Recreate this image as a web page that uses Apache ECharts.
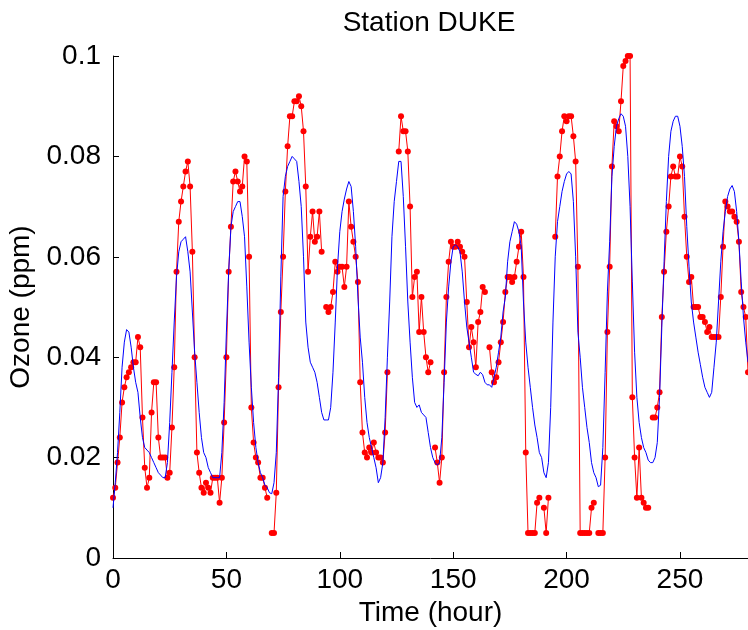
<!DOCTYPE html>
<html>
<head>
<meta charset="utf-8">
<script src="https://cdn.jsdelivr.net/npm/echarts@6/dist/echarts.min.js"></script>
<style>
html,body{margin:0;padding:0;background:#fff;}
#chart{width:748px;height:630px;}
</style>
</head>
<body>
<div id="chart"></div>
<script>
// Hourly observed ozone (ppm), index = hour; null = missing
var observed = [
0.012,0.014,0.019,0.024,0.031,0.034,0.036,0.037,0.038,0.039,
0.039,0.044,0.042,0.028,0.018,0.014,0.016,0.029,0.035,0.035,
0.024,0.020,0.020,0.020,0.016,0.017,0.026,0.038,0.057,0.067,
0.071,0.074,0.077,0.079,0.074,0.061,0.040,0.021,0.017,0.014,
0.013,0.015,0.014,0.013,0.016,0.016,0.016,0.011,0.016,0.027,
0.040,0.057,0.066,0.075,0.077,0.075,0.073,0.074,0.080,0.079,
0.060,0.030,0.023,0.020,0.019,0.016,0.016,0.014,0.012,null,
0.005,0.005,0.013,0.034,0.049,0.060,0.073,0.082,0.088,0.088,
0.091,0.091,0.092,0.090,0.085,0.074,0.057,0.064,0.069,0.063,
0.064,0.069,0.061,null,0.050,0.049,0.050,0.053,0.059,0.057,
0.058,0.058,0.054,0.058,0.071,0.066,0.063,0.060,0.055,0.035,
0.025,0.021,0.020,0.022,0.021,0.023,0.021,0.020,0.020,0.019,
0.025,0.037,null,null,null,null,0.081,0.088,0.085,0.085,
0.081,0.070,0.052,0.056,0.057,0.045,0.052,0.045,0.040,0.037,
0.039,null,0.022,0.019,0.015,0.020,0.037,0.052,0.059,0.063,
0.062,0.062,0.063,0.062,0.061,0.060,0.051,0.042,0.046,0.043,
0.038,0.047,0.049,0.054,0.053,null,0.042,0.037,0.035,0.036,
0.039,0.043,0.047,0.053,0.056,0.056,0.055,0.056,0.059,0.062,
0.065,0.056,0.021,0.005,0.005,0.005,0.005,0.011,0.012,null,
0.010,0.005,0.012,null,null,0.064,0.076,0.080,0.085,0.088,
0.087,0.088,0.088,0.084,0.079,0.058,0.005,0.005,0.005,0.005,
0.005,0.010,0.011,null,0.005,0.005,0.005,0.020,0.045,0.058,
0.078,0.087,0.086,0.085,0.091,0.098,0.099,0.100,0.100,0.032,
0.020,0.012,0.022,0.012,0.011,0.010,0.010,null,0.028,0.028,
0.030,0.033,0.048,0.057,0.065,0.070,0.076,0.078,0.076,0.076,
0.080,0.078,0.068,0.060,0.055,0.056,0.050,0.050,0.050,0.048,
0.048,0.047,0.045,0.046,0.044,0.044,0.044,0.044,0.052,0.062,
0.071,0.070,0.069,0.069,0.068,0.067,0.063,0.053,0.050,0.048,
0.037
];

// Hourly modelled ozone (ppm), index = hour
var modelled = [
0.010,0.015,0.021,0.029,0.038,0.043,0.0455,0.045,0.042,0.038,
0.035,0.033,0.028,0.024,0.022,0.0215,0.021,0.020,0.019,0.018,
0.017,0.0165,0.016,0.016,0.019,0.027,0.037,0.047,0.056,0.061,
0.063,0.0635,0.064,0.061,0.057,0.049,0.041,0.035,0.029,0.024,
0.021,0.020,0.018,0.017,0.016,0.016,0.016,0.016,0.021,0.031,
0.045,0.057,0.066,0.069,0.070,0.071,0.071,0.068,0.064,0.054,
0.043,0.034,0.027,0.022,0.019,0.017,0.016,0.0145,0.014,0.013,
0.0128,0.015,0.021,0.036,0.056,0.072,0.076,0.078,0.079,0.080,
0.0795,0.079,0.075,0.070,0.060,0.047,0.042,0.039,0.038,0.037,
0.035,0.032,0.029,0.0275,0.0275,0.0275,0.030,0.037,0.047,0.058,
0.065,0.069,0.0715,0.0735,0.075,0.074,0.069,0.062,0.052,0.044,
0.039,0.032,0.027,0.024,0.022,0.020,0.018,0.015,0.016,0.019,
0.028,0.040,0.051,0.064,0.071,0.075,0.079,0.079,0.072,0.062,
0.051,0.043,0.036,0.031,0.030,0.0305,0.029,0.0285,0.028,0.025,
0.022,0.020,0.019,0.0185,0.019,0.024,0.035,0.047,0.054,0.059,
0.062,0.0624,0.062,0.061,0.057,0.051,0.046,0.043,0.040,0.037,
0.0366,0.0363,0.037,0.0365,0.035,0.0345,0.0345,0.034,0.036,0.038,
0.041,0.044,0.049,0.052,0.059,0.063,0.065,0.067,0.0665,0.065,
0.062,0.051,0.043,0.038,0.034,0.030,0.0265,0.024,0.021,0.020,
0.017,0.016,0.019,0.030,0.047,0.060,0.067,0.070,0.073,0.075,
0.0765,0.077,0.0765,0.071,0.060,0.045,0.040,0.034,0.030,0.026,
0.023,0.019,0.017,0.016,0.0142,0.0145,0.022,0.037,0.053,0.063,
0.076,0.082,0.086,0.0875,0.0885,0.088,0.086,0.080,0.070,0.055,
0.041,0.032,0.027,0.024,0.022,0.021,0.0195,0.019,0.019,0.020,
0.023,0.032,0.046,0.059,0.071,0.080,0.085,0.087,0.088,0.088,
0.086,0.082,0.076,0.066,0.058,0.051,0.047,0.044,0.041,0.0385,
0.036,0.034,0.033,0.032,0.033,0.038,0.043,0.051,0.059,0.065,
0.069,0.072,0.0735,0.0742,0.073,0.069,0.063,0.055,0.048,0.043,
0.039
];

var xTicks = { min: 0, max: 280, interval: 50 };
var yTicks = { min: 0, max: 0.1, interval: 0.02 };
var titleText = 'Station DUKE';
var xName = 'Time (hour)';
var yName = 'Ozone (ppm)';

function toPairs(arr) {
  return arr.map(function (v, i) { return [i, v === null ? '-' : v]; });
}

var font = 'Liberation Sans, Arial, Helvetica, sans-serif';
var fs = 28;
var chart = echarts.init(document.getElementById('chart'), null, { renderer: 'canvas' });
chart.setOption({
  animation: false,
  backgroundColor: '#ffffff',
  title: {
    text: titleText, left: 424, top: 4, textAlign: 'center',
    textStyle: { fontFamily: font, fontSize: fs, fontWeight: 'normal', color: '#000' }
  },
  grid: { left: 113, right: 0, top: 56, bottom: 72, containLabel: false, outerBoundsMode: 'none' },
  xAxis: {
    type: 'value', min: xTicks.min, max: xTicks.max, interval: xTicks.interval,
    name: xName, nameLocation: 'middle', nameGap: 38,
    nameTextStyle: { fontFamily: font, fontSize: fs, color: '#000' },
    axisLine: { show: true, onZero: false, lineStyle: { color: '#000', width: 1 } },
    axisTick: { show: true, inside: true, length: 6, lineStyle: { color: '#000' } },
    axisLabel: { fontFamily: font, fontSize: fs, color: '#000', margin: 8,
      showMaxLabel: false },
    splitLine: { show: false }
  },
  yAxis: {
    type: 'value', min: yTicks.min, max: yTicks.max, interval: yTicks.interval,
    name: yName, nameLocation: 'middle', nameGap: 74, nameRotate: 90,
    nameTextStyle: { fontFamily: font, fontSize: fs, color: '#000' },
    axisLine: { show: true, onZero: false, lineStyle: { color: '#000', width: 1 } },
    axisTick: { show: true, inside: true, length: 6, lineStyle: { color: '#000' } },
    axisLabel: { fontFamily: font, fontSize: fs, color: '#000', margin: 12 },
    splitLine: { show: false }
  },
  series: [
    {
      name: 'Observed', type: 'line', data: toPairs(observed),
      connectNulls: false,
      symbol: 'circle', symbolSize: 6, showAllSymbol: true,
      itemStyle: { color: '#ff0000' },
      lineStyle: { color: '#ff0000', width: 1 },
      z: 2
    },
    {
      name: 'Model', type: 'line', data: toPairs(modelled),
      symbol: 'none', showSymbol: false,
      lineStyle: { color: '#0000ff', width: 1 },
      z: 3
    }
  ]
});
</script>
</body>
</html>
